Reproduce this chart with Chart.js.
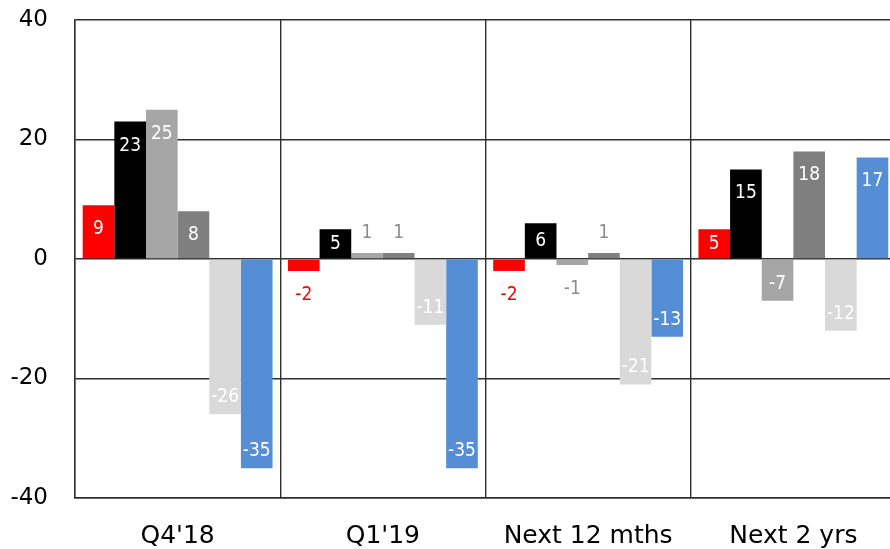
<!DOCTYPE html>
<html>
<head>
<meta charset="utf-8">
<script src="https://cdn.jsdelivr.net/npm/chart.js@4/dist/chart.umd.min.js"></script>
<style>
  html, body { margin: 0; padding: 0; background: #fff; overflow: hidden; }
  #wrap { width: 910px; height: 549px; }
</style>
</head>
<body>
<div id="wrap"><canvas id="c" width="910" height="549"></canvas></div>
<script>
// Categories along the x axis
const categories = ["Q4'18", "Q1'19", "Next 12 mths", "Next 2 yrs"];

// One array per series (values per category)
const seriesRed       = [9, -2, -2, 5];
const seriesBlack     = [23, 5, 6, 15];
const seriesGray      = [25, 1, -1, -7];
const seriesDarkGray  = [8, 1, 1, 18];
const seriesLightGray = [-26, -11, -21, -12];
const seriesBlue      = [-35, -35, -13, 17];

// Y axis ticks
const yTicks = [-40, -20, 0, 20, 40];

const seriesList = [
  { name: 'S1', data: seriesRed,       color: '#FF0000', outside: '#FF0000' },
  { name: 'S2', data: seriesBlack,     color: '#000000', outside: '#000000' },
  { name: 'S3', data: seriesGray,      color: '#A6A6A6', outside: '#8C8C8C' },
  { name: 'S4', data: seriesDarkGray,  color: '#7F7F7F', outside: '#8C8C8C' },
  { name: 'S5', data: seriesLightGray, color: '#D9D9D9', outside: '#BFBFBF' },
  { name: 'S6', data: seriesBlue,      color: '#558ED5', outside: '#558ED5' }
];

const labelFont = '19px "DejaVu Sans Condensed", "DejaVu Sans", sans-serif';

// Value labels: inside the bar end, or just outside it when the bar is too short
const valueLabels = {
  id: 'valueLabels',
  afterDatasetsDraw(chart) {
    const ctx = chart.ctx;
    ctx.save();
    ctx.font = labelFont;
    ctx.textAlign = 'center';
    ctx.textBaseline = 'middle';
    chart.data.datasets.forEach((ds, di) => {
      const meta = chart.getDatasetMeta(di);
      meta.data.forEach((bar, i) => {
        const v = ds.data[i];
        const h = Math.abs(bar.base - bar.y);
        let y, color;
        if (h < 20) {
          color = seriesList[di].outside;
          y = v >= 0 ? bar.y - 20 : bar.y + 24;
        } else {
          color = '#FFFFFF';
          y = v >= 0 ? bar.y + Math.min(24, h / 2) : bar.y - Math.min(17, h / 2);
        }
        ctx.fillStyle = color;
        ctx.fillText(String(v), bar.x, y);
      });
    });
    ctx.restore();
  }
};

// Keep the plot frame fixed: no extra padding reserved for tick labels
function clearScalePadding(scale) {
  scale.paddingTop = 0;
  scale.paddingBottom = 0;
  scale.paddingLeft = 0;
  scale.paddingRight = 0;
}

const lineColor = '#2E2E2E';

new Chart(document.getElementById('c'), {
  type: 'bar',
  data: {
    labels: categories,
    datasets: seriesList.map(s => ({
      label: s.name,
      data: s.data,
      backgroundColor: s.color,
      borderWidth: 0,
      barPercentage: 1.0,
      categoryPercentage: 0.925
    }))
  },
  options: {
    responsive: false,
    animation: false,
    devicePixelRatio: 1,
    layout: { padding: { top: 20, right: 14, bottom: 0, left: 0 } },
    plugins: {
      legend: { display: false },
      tooltip: { enabled: false }
    },
    scales: {
      x: {
        offset: true,
        grid: { color: lineColor, lineWidth: 1.4, drawTicks: false, offset: true },
        border: { display: true, color: lineColor, width: 1.4 },
        ticks: {
          color: '#000000',
          padding: 23,
          font: { family: '"DejaVu Sans", sans-serif', size: 25 }
        },
        afterFit(scale) { scale.height = 51; clearScalePadding(scale); }
      },
      y: {
        min: -40,
        max: 40,
        afterBuildTicks(scale) { scale.ticks = yTicks.map(v => ({ value: v })); },
        grid: { color: lineColor, lineWidth: 1.4, drawTicks: false },
        border: { display: true, color: lineColor, width: 1.4 },
        ticks: {
          color: '#000000',
          padding: 27,
          font: { family: '"DejaVu Sans", sans-serif', size: 23 }
        },
        afterFit(scale) { scale.width = 75; clearScalePadding(scale); }
      }
    }
  },
  plugins: [valueLabels]
});
</script>
</body>
</html>
